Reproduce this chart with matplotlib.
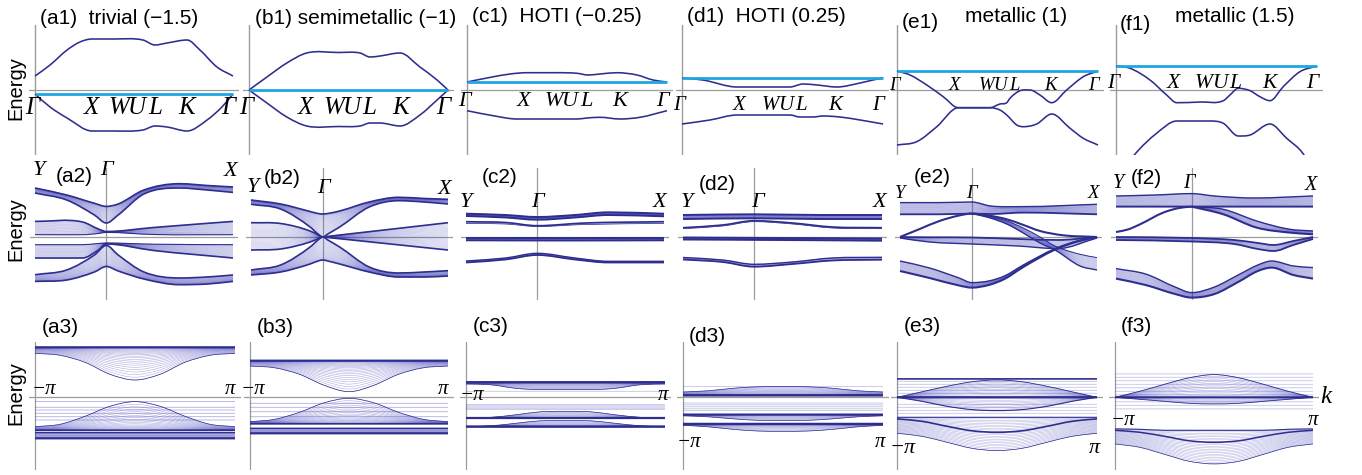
import numpy as np
import matplotlib
matplotlib.use("Agg")
import matplotlib.pyplot as plt
from matplotlib.path import Path
from matplotlib.patches import PathPatch

# ======================= DATA =======================
# ---- Row 1: bulk bands along Γ-X-W-U-L-K-Γ (k = fraction of path), energies in arb. units
PATH_LABELS = ["Γ", "X", "W", "U", "L", "K", "Γ"]
PATH_POS = [-0.012, 0.283, 0.425, 0.515, 0.605, 0.764, 0.978]
ROW1_TITLES = ["(a1)  trivial (−1.5)", "(b1) semimetallic (−1)", "(c1)  HOTI (−0.25)",
               "(d1)  HOTI (0.25)", "(e1)", "(f1)"]
ROW1_SUBTITLES = ["", "", "", "", "metallic (1)", "metallic (1.5)"]
CYAN_LEVEL = [-4, 0, 8, 12, 19, 24]

A1_K_UP = [0, .076, .162, .227, .288, .40, .545, .606, .667, .768, .833, .919, 1]
A1_E_UP = [14, 25, 40, 48, 51, 51, 50, 45, 47, 50, 40, 23, 14]
A1_K_LO = [0, .076, .162, .288, .40, .545, .606, .667, .768, .869, .944, 1]
A1_E_LO = [-4, -17, -28, -41, -41, -40, -36, -37, -41, -30, -17, -4]

B1_K = [0, .09, .19, .29, .45, .558, .608, .658, .759, .859, .945, 1]
B1_E_UP = [0, 13, 27, 37, 37.5, 37, 33, 34, 37, 23, 10, 0]
B1_E_LO = [0, -13, -27, -36, -36.5, -36, -33, -33, -36, -25, -10, 0]

C1_K_UP = [0, .1, .215, .3, .45, .55, .605, .665, .75, .85, .93, 1]
C1_E_UP = [8, 12, 16, 17.3, 17.3, 16.7, 15, 16, 17.3, 15, 10, 8]
C1_K_LO = [0, .13, .25, .4, .55, .6, .665, .765, .865, 1]
C1_E_LO = [-20.7, -25.7, -29, -29, -29, -28, -27.3, -29, -27.3, -20.7]

D1_K_UP = [0, .104, .274, .4, .537, .602, .672, .771, .886, .95, 1]
D1_E_UP = [12, 10, 3, 3, 3, 6, 5, 3, 7, 10, 12]
D1_K_LO = [0, .139, .274, .4, .537, .587, .652, .701, .786, .886, 1]
D1_E_LO = [-34, -30, -25, -25, -25, -27, -27, -26, -27, -30, -34]

E1_K_A = [0, .065, .148, .23, .305, .39, .463, .512, .546, .562, .612, .662, .711, .77, .844, .927, 1]
E1_E_A = [19, 15, 5, -6.7, -17.7, -17.7, -17.7, -14, -12.7, -8.3, -0.7, 0, -5, -12.7, 0, 13.3, 19]
E1_K_B = [0, .098, .198, .305, .39, .463, .512, .546, .596, .628, .695, .77, .861, .927, 1]
E1_E_B = [-55, -51.7, -36.7, -17.7, -17.7, -17.7, -20, -25, -35, -36.7, -34, -24, -38.3, -48.3, -55]

F1_K_A = [0, .07, .169, .252, .302, .42, .534, .567, .608, .667, .716, .766, .832, .915, 1]
F1_E_A = [24, 21.7, 10, -5, -12.7, -12, -10.7, -5, 1.7, -0.7, -6.7, -10.7, 3.3, 18.3, 24]
F1_K_B = [0, .095, .202, .302, .468, .534, .608, .667, .766, .849, .932, 1]
F1_E_B = [-90, -64, -43.3, -31, -31, -33.3, -46, -45, -34, -48.3, -64, -90]

# ---- Row 2: ribbon bands along Y-Γ-X (k = fraction of path)
GAMMA2 = [0.36, 0.365, 0.36, 0.357, 0.364, 0.384]

A2_K_TOP = [0, .16, .3, .36, .42, .55, .73, .87, 1]
A2_TOP_OUT = [49, 42, 33.7, 30.6, 33, 47, 53.3, 51.5, 50]
A2_TOP_IN = [44, 37, 22, 14, 22, 43, 49, 47, 44.6]
A2_K_MID = [0, .24, .32, .36, .6, 1]
A2_UMID_HI = [15.6, 15, 8, 5.5, 9.5, 15.6]
A2_UMID_LO = [2.3, 2.3, 3.5, 4.6, 2.5, 2.3]
A2_LMID_HI = [-7.7, -7.7, -6.5, -6, -7.2, -7.7]
A2_LMID_LO = [-21, -21, -13, -7, -13.5, -21]
A2_BOT_IN = [-37.7, -33, -18, -8.5, -18, -35, -41, -40, -38]
A2_BOT_OUT = [-44.4, -43, -35, -29.5, -34, -42, -47.7, -47, -44.4]

B2_K = [0, .15, .3, .34, .365, .39, .45, .6, .75, .88, 1]
B2_TOP_OUT = [37, 33, 25.5, 23.5, 23, 23.5, 26, 35, 39.7, 38.5, 37.7]
B2_TOP_IN = [32.7, 28, 10, 3, 0, 3, 10, 30, 36.3, 35, 33]
B2_K_MID = [0, .15, .3, .34, .365, .39, .6, 1]
B2_MID_HI = [14.3, 13.5, 6, 2.2, 0, 0.6, 5.3, 14.3]
B2_MID_LO = [-13, -12, -5, -1.8, 0, -0.5, -4.8, -13]
B2_BOT_IN = [-33, -28, -10, -3, 0, -3, -10, -30, -36, -35, -33.7]
B2_BOT_OUT = [-38, -35, -27, -24, -23, -24, -27, -35, -40, -40, -39]

C2_K = [0, .2, .36, .55, .72, 1]
C2_TOP_HI = [23.3, 22, 20, 22, 24.7, 23.3]
C2_TOP_LO = [21, 19.5, 17.3, 19.5, 22, 20.7]
C2_K2 = [0, .2, .36, .6, 1]
C2_SEC_DARK = [15.3, 14.5, 11.3, 14, 15.3]
C2_SEC_LIGHT = [13.5, 13, 10.5, 12.5, 13.5]
C2_K3 = [0, .5, 1]
C2_FLAT_HI = [-1, -1, -1]
C2_FLAT_LO = [-3.3, -3.5, -3.3]
C2_BOT_HI = [-24, -21, -16.3, -21, -24.3, -24.3]
C2_BOT_LO = [-25.5, -22.5, -18, -22.5, -25.5, -25.5]

D2_K = [0, .357, .7, 1]
D2_TOP_HI = [22, 22.7, 22, 22]
D2_TOP_LO = [18, 18.7, 18, 18]
D2_K2 = [0, .2, .357, .55, .75, 1]
D2_SEC_DARK = [9.3, 12, 16.3, 14, 10, 9.3]
D2_SEC_LIGHT = [8.3, 11, 15.3, 13, 9, 8.3]
D2_K3 = [0, .5, 1]
D2_FLAT_HI = [-0.5, -1, -1.5]
D2_FLAT_LO = [-2.5, -3, -3.7]
D2_BOT_HI = [-20.5, -23, -27.3, -25, -21, -20.3]
D2_BOT_LO = [-22.5, -25, -29.7, -27, -23.5, -22.7]

E2_K_T = [0, .2, .364, .46, .63, 1]
E2_T_HI = [34.4, 34.4, 35, 31, 30.4, 32.7]
E2_T_LO = [22.7, 22.7, 23.4, 23, 24.4, 22.7]
E2_K_TENT = [0, .1, .2, .3, .364, .45, .542, .62, .711, .829, 1]
E2_TENT = [0, 8, 16, 21.5, 23.4, 21.5, 17.7, 12.5, 6, 1.7, 0]
E2_K_FAN = [.364, .45, .542, .626, .711, .787, .914, 1]
E2_FAN_HI = [23.4, 21, 16, 9, 0, -9, -17.3, -20.6]
E2_FAN_LO = [23.4, 19.5, 13, 4, -6, -13, -29, -33]
E2_K_MID = [0, .15, .364, .6, .8, 1]
E2_MID_HI = [0, -0.3, -0.5, -2, -3, 0]
E2_MID_LO = [-1, -5, -7, -9, -11.6, -1]
E2_K_BOT = [0, .15, .3, .364, .45, .53, .626, .787, .9, 1]
E2_BOT_HI = [-24, -31, -41, -45.6, -44, -39, -28, -11.6, -4, 0]
E2_BOT_LO = [-34, -41, -48.5, -50.6, -48, -42, -30, -12.6, -4.5, 0]

F2_K_T = [0, .2, .384, .5, .7, 1]
F2_T_HI = [41, 42, 43.4, 41, 39, 41]
F2_T_LO = [30.4, 30.4, 30.4, 30.4, 30.4, 30.4]
F2_K_LEFT = [0, .06, .122, .24, .32, .384]
F2_LEFT = [5, 7.5, 12.7, 24.4, 29, 30.4]
F2_K_FAN = [.384, .545, .714, .883, 1]
F2_FAN_HI = [30.4, 27.7, 16, 7.7, 6]
F2_FAN_LO = [30.4, 22.7, 9.4, 4.4, 2.7]
F2_K_MID = [0, .384, .6, .72, .8, .9, 1]
F2_MID_HI = [0, -1, -3, -6, -8, -4, 0]
F2_MID_LO = [-3, -4.5, -7, -12, -14, -8, -2]
F2_K_BOT = [0, .15, .3, .384, .5, .62, .72, .79, .9, 1]
F2_BOT_HI = [-31.6, -37, -50, -55.6, -50, -38, -28, -24, -29, -30.6]
F2_BOT_LO = [-41.6, -48, -57, -60.6, -57, -45, -34, -30.6, -38, -41.6]

# ---- Row 3: bands vs k in units of π
K3 = [-1, -.75, -.5, -.25, 0, .25, .5, .75, 1]
K3_FLAT = [-1, 1]

A3_TOP_HI = [50, 50, 50, 50, 50, 50, 50, 50, 50]
A3_TOP_LO = [44, 42, 35, 23, 17.3, 23, 35, 42, 44]
A3_FLAT_LINES = [-4.3, -10, -12.7, -16, -19.4, -22.7]
A3_HUMP_HI = [-29.4, -27, -19, -9, -4.3, -9, -19, -27, -29.4]
A3_HUMP_LO = [-33, -33, -33, -33, -33, -33, -33, -33, -33]
A3_BASE = [-35.3, -41]

B3_TOP_HI = [36.6, 36.6, 36.6, 36.6, 36.6, 36.6, 36.6, 36.6, 36.6]
B3_TOP_LO = [31.3, 29.5, 23, 12, 5.6, 12, 23, 29.5, 31.3]
B3_FLAT_LINES = [-6, -10, -14.4, -19.4]
B3_HUMP_HI = [-24.4, -22, -15, -5.5, -1, -5.5, -15, -22, -24.4]
B3_HUMP_LO = [-26.5, -26.5, -26.5, -26.5, -26.5, -26.5, -26.5, -26.5, -26.5]
B3_BASE = [-31, -36]

C3_TOP_HI = [15, 15, 15, 15, 15, 15, 15, 15, 15]
C3_TOP_LO = [13.3, 12.5, 9, 7.7, 7.7, 7.7, 9, 12.5, 13.3]
C3_FLAT_LINES = [6, -7.3, -8.5, -9.8, -11, -12.3]
C3_B2_HI = [-20.7, -20, -17.5, -14.5, -14, -14.5, -17.5, -20, -20.7]
C3_B2_LO = [-20.7, -20.7, -20.7, -20.7, -20.7, -20.7, -20.7, -20.7, -20.7]
C3_B3_HI = [-29.3, -28.5, -26, -23.5, -23.3, -23.5, -26, -28.5, -29.3]
C3_B3_LO = [-29.3, -29.3, -29.3, -29.3, -29.3, -29.3, -29.3, -29.3, -29.3]

D3_TOP_LO = [2, 2, 2, 2, 2, 2, 2, 2, 2]
D3_TOP_HI = [5.3, 6.5, 9, 10.5, 10.7, 10.5, 9, 6.5, 5.3]
D3_FLAT_LINES = [10.7, -5.7, -7.5, -9.5, -11.5, -13.3]
D3_B2_HI = [-17.3, -17.3, -17.3, -17.3, -17.3, -17.3, -17.3, -17.3, -17.3]
D3_B2_LO = [-18.5, -19.5, -21.5, -23, -23.3, -23, -21.5, -19.5, -18.5]
D3_B3_HI = [-26.7, -26.7, -26.7, -26.7, -26.7, -26.7, -26.7, -26.7, -26.7]
D3_B3_LO = [-28, -29.5, -32, -33.7, -34, -33.7, -32, -29.5, -28]

E3_TOPLINE = 18.4
E3_FLAT_LINES = [16, 13, 10, 7, 4, -7, -10, -13.3, -16]
E3_DOME = [0, 5.5, 11, 15.5, 17.4, 15.5, 11, 5.5, 0]
E3_DIP = [0, -4, -9, -12.3, -13.3, -12.3, -9, -4, 0]
E3_LOW_HI = [-20, -20, -20, -20, -20, -20, -20, -20, -20]
E3_LOW_LO = [-36, -39, -45, -51, -53.3, -51, -45, -39, -36]
E3_ARCH = [-21.6, -24, -29, -33.5, -35, -33.5, -29, -24, -21.6]

F3_FLAT_LINES = [23.4, 20, 16.5, 13, 9.5, 6, 2.5, -1, -4.5, -8, -11.6]
F3_DOME = [0, 6, 13, 19.5, 22.7, 19.5, 13, 6, 0]
F3_DIP = [0, -2, -4, -6, -6.6, -6, -4, -2, 0]
F3_LOW_HI = [-31.6, -32, -33, -33, -33, -33, -33, -32, -31.6]
F3_LOW_LO = [-46.6, -50, -57, -64, -66.6, -64, -57, -50, -46.6]
F3_ARCH = [-33, -35, -39, -43.5, -45, -43.5, -39, -35, -33]

# ======================= STYLE / LAYOUT =======================
W, H = 1362, 475
BLUE = "#2e2e8e"
BLUE_THIN = "#3434b4"
CYAN = "#1fa6e2"
GRAY = "#9c9c9c"
SANS = "Liberation Sans"
SERIF = "Liberation Serif"

fig = plt.figure(figsize=(W / 100, H / 100), dpi=100)


def px_axes(left, top, width, height):
    ax = fig.add_axes([left / W, 1 - (top + height) / H, width / W, height / H])
    ax.set_axis_off()
    return ax


def ftext(x, y, s, size, **kw):
    fig.text(x / W, 1 - y / H, s, fontsize=size, family=SANS, va="center", **kw)


def smooth_path(k, e):
    k = np.asarray(k, float)
    e = np.asarray(e, float)
    n = len(k)
    sec = np.diff(e) / np.diff(k)
    m = np.empty(n)
    m[0], m[-1] = sec[0], sec[-1]
    for i in range(1, n - 1):
        m[i] = 0.0 if sec[i - 1] * sec[i] <= 0 else 0.5 * (sec[i - 1] + sec[i])
    verts = [(k[0], e[0])]
    codes = [Path.MOVETO]
    for i in range(n - 1):
        dx = k[i + 1] - k[i]
        verts += [(k[i] + dx / 3, e[i] + m[i] * dx / 3),
                  (k[i + 1] - dx / 3, e[i + 1] - m[i + 1] * dx / 3),
                  (k[i + 1], e[i + 1])]
        codes += [Path.CURVE4] * 3
    return Path(verts, codes)


def line(ax, k, e, color=BLUE, lw=1.1, alpha=1.0, z=3):
    ax.add_patch(PathPatch(smooth_path(k, e), fill=False, edgecolor=color, lw=lw,
                           alpha=alpha, zorder=z, capstyle="butt"))


def bundle(ax, k, ea, eb, n=20, power=1.0, lw=0.4, alpha=0.3, ea_lw=1.2, eb_lw=1.2):
    ea = np.asarray(ea, float)
    eb = np.asarray(eb, float)
    for t in np.linspace(0, 1, n):
        w = t ** power
        line(ax, k, ea + w * (eb - ea), color=BLUE_THIN, lw=lw, alpha=alpha)
    if ea_lw:
        line(ax, k, ea, lw=ea_lw)
    if eb_lw:
        line(ax, k, eb, lw=eb_lw)


def flat(ax, levels, lw=0.6, alpha=0.4):
    for lv in levels:
        line(ax, K3_FLAT, [lv, lv], color=BLUE_THIN, lw=lw, alpha=alpha)


# ---------------- Energy labels ----------------
for yc in (88, 229, 393):
    fig.text(16 / W, 1 - yc / H, "Energy", rotation=90, fontsize=14.5, family=SANS,
             ha="center", va="center")

# ======================= ROW 1 =======================
row1_geom = [(35, 198), (249, 199), (467, 200), (682, 201), (897, 201), (1116, 201)]
row1_lbl_size = [18, 18, 16, 15, 13.5, 15.5]
row1_lbl_y = [-17.5, -17.5, -11.5, -16, 4.5, 6]
row1_curves = [
    [(A1_K_UP, A1_E_UP), (A1_K_LO, A1_E_LO)],
    [(B1_K, B1_E_UP), (B1_K, B1_E_LO)],
    [(C1_K_UP, C1_E_UP), (C1_K_LO, C1_E_LO)],
    [(D1_K_UP, D1_E_UP), (D1_K_LO, D1_E_LO)],
    [(E1_K_A, E1_E_A), (E1_K_B, E1_E_B)],
    [(F1_K_A, F1_E_A), (F1_K_B, F1_E_B)],
]
title_pos = [(40, 18.5), (255, 18.5), (472, 16.5), (687, 16.5), (902, 23), (1120, 25)]
subtitle_pos = [None, None, None, None, (965, 16.5), (1175, 16.5)]
for i, (x0, w) in enumerate(row1_geom):
    ax = px_axes(x0 - 0.03 * w, 25, 1.06 * w, 130)
    ax.set_xlim(-0.03, 1.03)
    ax.set_ylim(-65, 65)
    ax.axvline(0, color=GRAY, lw=1.0, zorder=1)
    ax.axhline(0, color=GRAY, lw=0.9, zorder=1)
    for k, e in row1_curves[i]:
        line(ax, k, e, lw=1.15)
    kk = row1_curves[i][0][0]
    ax.plot([kk[0], kk[-1]], [CYAN_LEVEL[i], CYAN_LEVEL[i]], color=CYAN, lw=2.0, zorder=4,
            solid_capstyle="butt")
    s = row1_lbl_size[i]
    u = PATH_POS[3]
    pos = list(PATH_POS)
    pos[2] = u - (u - PATH_POS[2]) * s / 18.0   # W, U, L packed tighter for smaller text
    pos[4] = u + (PATH_POS[4] - u) * s / 18.0
    for lab, p in zip(PATH_LABELS, pos):
        ax.text(p, row1_lbl_y[i], lab, fontsize=s, family=SERIF,
                style="italic", ha="center", va="center", clip_on=False, zorder=5)
    ftext(*title_pos[i], ROW1_TITLES[i], 15)
    if subtitle_pos[i]:
        ftext(*subtitle_pos[i], ROW1_SUBTITLES[i], 15)

# ======================= ROW 2 =======================
row2_geom = [(35, 198), (251, 197), (466, 198), (683, 199), (900, 197), (1116, 197)]
row2_axes = []
for i, (x0, w) in enumerate(row2_geom):
    ax = px_axes(x0 - 0.025 * w, 168, 1.05 * w, 132)
    ax.set_xlim(-0.025, 1.025)
    ax.set_ylim(-63, 69)
    ax.axvline(GAMMA2[i], color=GRAY, lw=0.9, zorder=1)
    ax.axhline(0, color=GRAY, lw=0.9, zorder=1)
    row2_axes.append(ax)

a2, b2, c2, d2, e2, f2 = row2_axes
# a2
bundle(a2, A2_K_TOP, A2_TOP_OUT, A2_TOP_IN, n=26, power=1.3)
bundle(a2, A2_K_MID, A2_UMID_HI, A2_UMID_LO, n=20, eb_lw=0.8)
bundle(a2, A2_K_MID, A2_LMID_HI, A2_LMID_LO, n=20, ea_lw=0.8)
bundle(a2, A2_K_TOP, A2_BOT_OUT, A2_BOT_IN, n=26, power=1.3)
# b2
bundle(b2, B2_K, B2_TOP_OUT, B2_TOP_IN, n=26, power=1.3)
bundle(b2, B2_K_MID, B2_MID_HI, B2_MID_LO, n=26)
bundle(b2, B2_K, B2_BOT_OUT, B2_BOT_IN, n=26, power=1.3)
# c2
bundle(c2, C2_K, C2_TOP_HI, C2_TOP_LO, n=8, alpha=0.8, ea_lw=1.4, eb_lw=1.4)
bundle(c2, C2_K2, C2_SEC_DARK, C2_SEC_LIGHT, n=5, alpha=0.25, ea_lw=1.2, eb_lw=0.5)
bundle(c2, C2_K3, C2_FLAT_HI, C2_FLAT_LO, n=6, alpha=0.8, ea_lw=1.4, eb_lw=1.4)
bundle(c2, C2_K, C2_BOT_HI, C2_BOT_LO, n=5, alpha=0.5, ea_lw=1.0, eb_lw=1.3)
# d2
bundle(d2, D2_K, D2_TOP_HI, D2_TOP_LO, n=8, alpha=0.8, ea_lw=1.4, eb_lw=1.4)
bundle(d2, D2_K2, D2_SEC_DARK, D2_SEC_LIGHT, n=5, alpha=0.25, ea_lw=1.2, eb_lw=0.5)
bundle(d2, D2_K3, D2_FLAT_HI, D2_FLAT_LO, n=6, alpha=0.8, ea_lw=1.4, eb_lw=1.4)
bundle(d2, D2_K2, D2_BOT_HI, D2_BOT_LO, n=5, alpha=0.5, ea_lw=1.0, eb_lw=1.3)
# e2
bundle(e2, E2_K_T, E2_T_HI, E2_T_LO, n=26, ea_lw=1.0, eb_lw=1.3)
line(e2, E2_K_TENT, E2_TENT, lw=1.5)
bundle(e2, E2_K_FAN, E2_FAN_HI, E2_FAN_LO, n=20, ea_lw=0.7, eb_lw=1.0)
bundle(e2, E2_K_MID, E2_MID_HI, E2_MID_LO, n=16, ea_lw=1.3, eb_lw=1.0)
bundle(e2, E2_K_BOT, E2_BOT_HI, E2_BOT_LO, n=22, ea_lw=1.0, eb_lw=1.5)
# f2
bundle(f2, F2_K_T, F2_T_HI, F2_T_LO, n=26, ea_lw=1.0, eb_lw=1.4)
line(f2, F2_K_LEFT, F2_LEFT, lw=1.5)
bundle(f2, F2_K_FAN, F2_FAN_HI, F2_FAN_LO, n=18, ea_lw=1.0, eb_lw=1.5)
bundle(f2, F2_K_MID, F2_MID_HI, F2_MID_LO, n=16, ea_lw=1.3, eb_lw=1.3)
bundle(f2, F2_K_BOT, F2_BOT_HI, F2_BOT_LO, n=22, ea_lw=1.0, eb_lw=1.5)

# row 2 labels: (panel label pos in k,E), Y/Γ/X positions
row2_tag = ["(a2)", "(b2)", "(c2)", "(d2)", "(e2)", "(f2)"]
row2_tag_pos = [(.2, 60), (.16, 58), (.17, 59.5), (.173, 53), (.165, 59.5), (.152, 58.5)]
row2_sym_pos = [
    [(.02, 66.5), (.36, 66.5), (.99, 65.5)],
    [(.008, 49.5), (.37, 48.5), (.985, 47.5)],
    [(0.0, 34.5), (.36, 34.5), (.975, 34.5)],
    [(.018, 34.5), (.374, 34.5), (.987, 34.5)],
    [(0.0, 43), (.365, 43), (.982, 44)],
    [(.01, 53.5), (.37, 53), (.987, 52)],
]
row2_sym_size = [16, 16, 16, 16, 13.5, 14.5]
for ax, tag, tp, sp, ss in zip(row2_axes, row2_tag, row2_tag_pos, row2_sym_pos, row2_sym_size):
    ax.text(tp[0], tp[1], tag, fontsize=15, family=SANS, ha="center", va="center", clip_on=False)
    for lab, (kx, ey) in zip(["Y", "Γ", "X"], sp):
        ax.text(kx, ey, lab, fontsize=ss, family=SERIF, style="italic",
                ha="center", va="center", clip_on=False)

# ======================= ROW 3 =======================
row3_geom = [(35, 200), (250, 198), (466, 199), (683, 200), (897, 200), (1115, 198)]
row3_axes = []
for i, (x0, w) in enumerate(row3_geom):
    ax = px_axes(x0 - 0.03 * w, 342, 1.06 * w, 128)
    ax.set_xlim(-1.06, 1.06)
    ax.set_ylim(-72.7, 55.3)
    ax.axvline(-1, color=GRAY, lw=0.9, zorder=1)
    ax.axhline(0, color=GRAY, lw=0.9, zorder=1)
    row3_axes.append(ax)
a3, b3, c3, d3, e3, f3 = row3_axes
zeros9 = np.zeros(len(K3))

# a3
bundle(a3, K3, A3_TOP_HI, A3_TOP_LO, n=24, power=2.0, alpha=0.4, ea_lw=1.6, eb_lw=0.5)
flat(a3, A3_FLAT_LINES)
bundle(a3, K3, A3_HUMP_LO, A3_HUMP_HI, n=22, power=2.0, alpha=0.4, ea_lw=1.2, eb_lw=0.5)
bundle(a3, K3_FLAT, [A3_BASE[0]] * 2, [A3_BASE[1]] * 2, n=10, alpha=0.6, ea_lw=1.0, eb_lw=1.6)
# b3
bundle(b3, K3, B3_TOP_HI, B3_TOP_LO, n=24, power=2.0, alpha=0.4, ea_lw=1.6, eb_lw=0.5)
flat(b3, B3_FLAT_LINES)
bundle(b3, K3, B3_HUMP_LO, B3_HUMP_HI, n=22, power=2.0, alpha=0.4, ea_lw=1.2, eb_lw=0.5)
bundle(b3, K3_FLAT, [B3_BASE[0]] * 2, [B3_BASE[1]] * 2, n=10, alpha=0.6, ea_lw=1.0, eb_lw=1.6)
# c3
bundle(c3, K3, C3_TOP_HI, C3_TOP_LO, n=14, power=1.5, alpha=0.45, ea_lw=1.8, eb_lw=0.5)
flat(c3, C3_FLAT_LINES, alpha=0.3)
bundle(c3, K3, C3_B2_LO, C3_B2_HI, n=12, power=1.5, alpha=0.4, ea_lw=1.6, eb_lw=0.5)
bundle(c3, K3, C3_B3_LO, C3_B3_HI, n=12, power=1.5, alpha=0.4, ea_lw=1.8, eb_lw=0.5)
# d3
bundle(d3, K3, D3_TOP_LO, D3_TOP_HI, n=14, power=1.5, alpha=0.45, ea_lw=1.8, eb_lw=0.5)
flat(d3, D3_FLAT_LINES, alpha=0.3)
bundle(d3, K3, D3_B2_HI, D3_B2_LO, n=12, power=1.5, alpha=0.4, ea_lw=1.6, eb_lw=0.5)
bundle(d3, K3, D3_B3_HI, D3_B3_LO, n=12, power=1.5, alpha=0.4, ea_lw=1.8, eb_lw=0.5)
# e3
line(e3, K3_FLAT, [E3_TOPLINE, E3_TOPLINE], lw=1.2)
flat(e3, E3_FLAT_LINES, alpha=0.3)
bundle(e3, K3, zeros9, E3_DOME, n=14, alpha=0.35, ea_lw=1.3, eb_lw=0.6)
bundle(e3, K3, zeros9, E3_DIP, n=10, alpha=0.35, ea_lw=1.3, eb_lw=0.8)
bundle(e3, K3, E3_LOW_HI, E3_LOW_LO, n=22, alpha=0.35, ea_lw=0.8, eb_lw=0.5)
line(e3, K3, E3_ARCH, lw=1.2)
# f3
flat(f3, F3_FLAT_LINES, alpha=0.3)
bundle(f3, K3, zeros9, F3_DOME, n=14, alpha=0.35, ea_lw=1.1, eb_lw=0.6)
bundle(f3, K3, zeros9, F3_DIP, n=8, alpha=0.35, ea_lw=1.1, eb_lw=0.6)
bundle(f3, K3, F3_LOW_HI, F3_LOW_LO, n=22, alpha=0.35, ea_lw=0.8, eb_lw=0.5)
line(f3, K3, F3_ARCH, lw=1.1)

row3_tag = ["(a3)", "(b3)", "(c3)", "(d3)", "(e3)", "(f3)"]
row3_tag_px = [(60, 327.5), (275, 327.5), (491, 326.5), (707, 336), (922, 326.5), (1136, 326.5)]
row3_pi_pos = [(-.91, .955, 7.3), (-.97, .955, 7.3), (-.945, .985, 2), (-.94, .97, -45),
               (-.945, .975, -50.8), (-.92, 1.0, -23.3)]
row3_pi_size = [15, 15, 15, 15, 16, 15]
for ax, tag, tpx, pp, ps in zip(row3_axes, row3_tag, row3_tag_px, row3_pi_pos, row3_pi_size):
    ftext(tpx[0], tpx[1], tag, 15, ha="center")
    ax.text(pp[0], pp[2], "−π", fontsize=ps, family=SERIF, style="italic",
            ha="center", va="center", clip_on=False)
    ax.text(pp[1], pp[2], "π", fontsize=ps, family=SERIF, style="italic",
            ha="center", va="center", clip_on=False)
f3.text(1.13, 0, "k", fontsize=18, family=SERIF, style="italic", ha="center", va="center",
        clip_on=False)

fig.savefig("out.png", dpi=100)
